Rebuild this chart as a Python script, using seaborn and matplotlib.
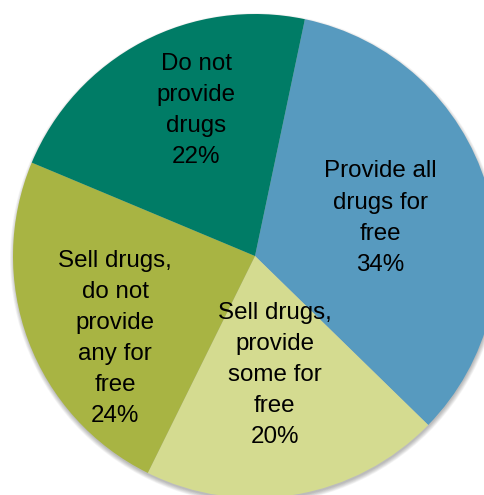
import numpy as np
import matplotlib
matplotlib.use("Agg")
import matplotlib.pyplot as plt
import seaborn as sns
from matplotlib.patches import Circle

# Responses and their shares (%)
categories = [
    "Provide all\ndrugs for\nfree",
    "Sell drugs,\nprovide\nsome for\nfree",
    "Sell drugs,\ndo not\nprovide\nany for\nfree",
    "Do not\nprovide\ndrugs",
]
shares = [34, 20, 24, 22]
slice_colors = ["#579ABF", "#D4DB90", "#A8B443", "#007C66"]

sns.set_theme(style="white")
plt.rcParams["font.family"] = ["Liberation Sans", "DejaVu Sans"]
palette = sns.color_palette(slice_colors)

W, H = 485, 495
fig = plt.figure(figsize=(W / 100, H / 100), dpi=100)
ax = fig.add_axes([0, 0, 1, 1])

cx, cy, r = 255, H - 256, 242

# soft drop shadow under the pie
for i in range(8):
    ax.add_patch(Circle((cx + 0.5, cy - 2.5), r + 3.5 - i * 0.6,
                        facecolor="#000000", alpha=0.035, lw=0, zorder=1))

wedges, _ = ax.pie(shares, colors=palette, radius=r, center=(cx, cy),
                   startangle=78.1, counterclock=False,
                   wedgeprops=dict(linewidth=0, zorder=2), frame=True)
ax.set_xlim(0, W)
ax.set_ylim(0, H)
ax.set_aspect("equal")
ax.axis("off")

# label placement: (radial fraction, angle offset in degrees) per slice
label_place = [(0.54, 0.0), (0.50, -0.4), (0.67, 10.0), (0.65, -5.8)]

for w, cat, val, (dist, dang) in zip(wedges, categories, shares, label_place):
    mid = np.deg2rad((w.theta1 + w.theta2) / 2 + dang)
    x = cx + dist * r * np.cos(mid)
    y = cy + dist * r * np.sin(mid)
    ax.text(x, y, f"{cat}\n{val}%", ha="center", va="center",
            fontsize=17.4, linespacing=1.53, color="black", zorder=5)

fig.savefig("out.png", dpi=100, facecolor="white")
